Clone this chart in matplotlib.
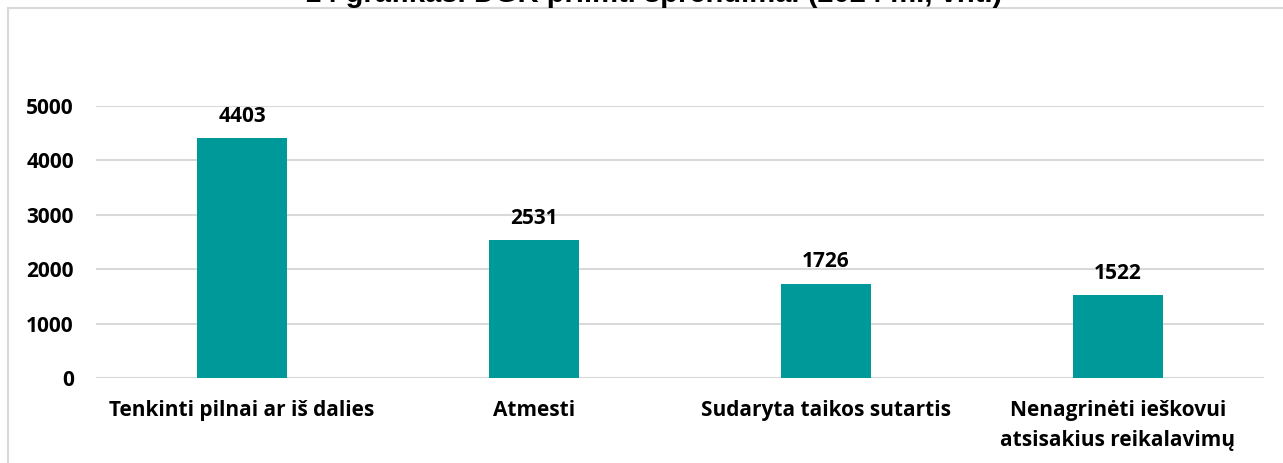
import matplotlib
matplotlib.use("Agg")
import matplotlib.pyplot as plt
from matplotlib.patches import Rectangle

# duomenys
categories = ["Tenkinti pilnai ar iš dalies", "Atmesti", "Sudaryta taikos sutartis",
              "Nenagrinėti ieškovui\natsisakius reikalavimų"]
values = [4403, 2531, 1726, 1522]
yticks = [0, 1000, 2000, 3000, 4000, 5000]
title = "14 grafikas. DGK priimti sprendimai (2024 m., vnt.)"

W, H = 1283, 463
fig = plt.figure(figsize=(W / 100, H / 100), dpi=100)

# chart frame (only top and left edges visible)
fig.patches.append(Rectangle((8 / W, -0.2), 1.3, 1.2 - 7.5 / H, transform=fig.transFigure,
                             fill=False, edgecolor="#d9d9d9", linewidth=1.5))

fig.text(654 / W, 1 - 2 / H, title, ha="center", va="baseline",
         fontsize=21, fontweight="bold", family="Liberation Sans")

ax = fig.add_axes([96 / W, 1 - 378 / H, (1264 - 96) / W, (378 - 106) / H])
x = range(len(categories))
bars = ax.bar(x, values, width=0.31, color="#009999", zorder=2)
ax.set_xlim(-0.5, len(categories) - 0.5)
ax.set_ylim(0, 5000)
ax.set_yticks(yticks)
ax.grid(axis="y", color="#d9d9d9", linewidth=1.5, zorder=0)
for s in ax.spines.values():
    s.set_visible(False)
ax.tick_params(length=0)
ax.tick_params(axis="y", pad=16)
ax.tick_params(axis="x", pad=16)
ax.set_xticks(list(x))
ax.set_xticklabels(categories, fontsize=15, fontweight="bold", family="Open Sans",
                   linespacing=1.55)
for t in ax.get_yticklabels():
    t.set_fontsize(15)
    t.set_fontweight("bold")
    t.set_family("Open Sans")

for b, v in zip(bars, values):
    ax.annotate(str(v), (b.get_x() + b.get_width() / 2, v), xytext=(0, 12),
                textcoords="offset points", ha="center", va="baseline",
                fontsize=15, fontweight="bold", family="Open Sans", clip_on=False)

fig.savefig("out.png", dpi=100)
